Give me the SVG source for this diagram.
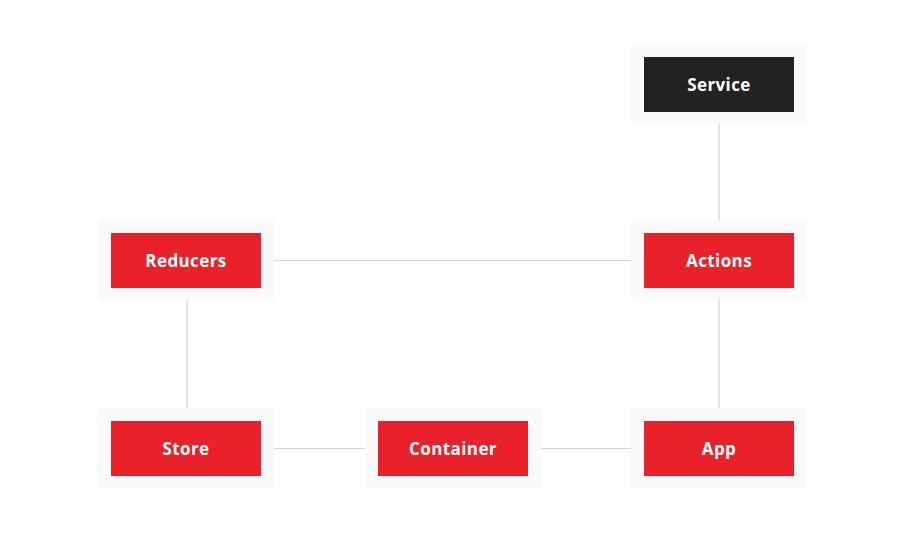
<svg xmlns="http://www.w3.org/2000/svg" width="912" height="559" viewBox="0 0 912 559">
<style>
.outer{fill:#f9f9f9}
.inner{fill:#e8212a}
.dark{fill:#222222}
.lbl{font-family:"Open Sans","Liberation Sans",sans-serif;font-weight:700;font-size:17px;letter-spacing:0.4px;fill:#ffffff;text-anchor:middle;dominant-baseline:central}
.edge{stroke:#d4d4d4;stroke-width:1.2;fill:none}
</style>
<rect width="912" height="559" fill="#ffffff"/>
<g id="connectors">
<line class="edge" x1="719" y1="124" x2="719" y2="220"/>
<line class="edge" x1="274" y1="260.5" x2="631" y2="260.5"/>
<line class="edge" x1="719" y1="300" x2="719" y2="408"/>
<line class="edge" x1="187" y1="300" x2="187" y2="408"/>
<line class="edge" x1="274" y1="448.5" x2="365" y2="448.5"/>
<line class="edge" x1="541" y1="448.5" x2="631" y2="448.5"/>
</g>
<g id="service"><rect class="outer" x="631" y="44" width="176" height="80"/><rect class="dark" x="644" y="57" width="150" height="55"/><text class="lbl" x="719" y="84.5">Service</text></g>
<g id="actions"><rect class="outer" x="631" y="220" width="176" height="80"/><rect class="inner" x="644" y="233" width="150" height="55"/><text class="lbl" x="719" y="260.5">Actions</text></g>
<g id="reducers"><rect class="outer" x="98" y="220" width="176" height="80"/><rect class="inner" x="111" y="233" width="150" height="55"/><text class="lbl" x="186" y="260.5">Reducers</text></g>
<g id="store"><rect class="outer" x="98" y="408" width="176" height="80"/><rect class="inner" x="111" y="421" width="150" height="55"/><text class="lbl" x="186" y="448.5">Store</text></g>
<g id="container"><rect class="outer" x="365" y="408" width="176" height="80"/><rect class="inner" x="378" y="421" width="150" height="55"/><text class="lbl" x="453" y="448.5">Container</text></g>
<g id="app"><rect class="outer" x="631" y="408" width="176" height="80"/><rect class="inner" x="644" y="421" width="150" height="55"/><text class="lbl" x="719" y="448.5">App</text></g>
</svg>
